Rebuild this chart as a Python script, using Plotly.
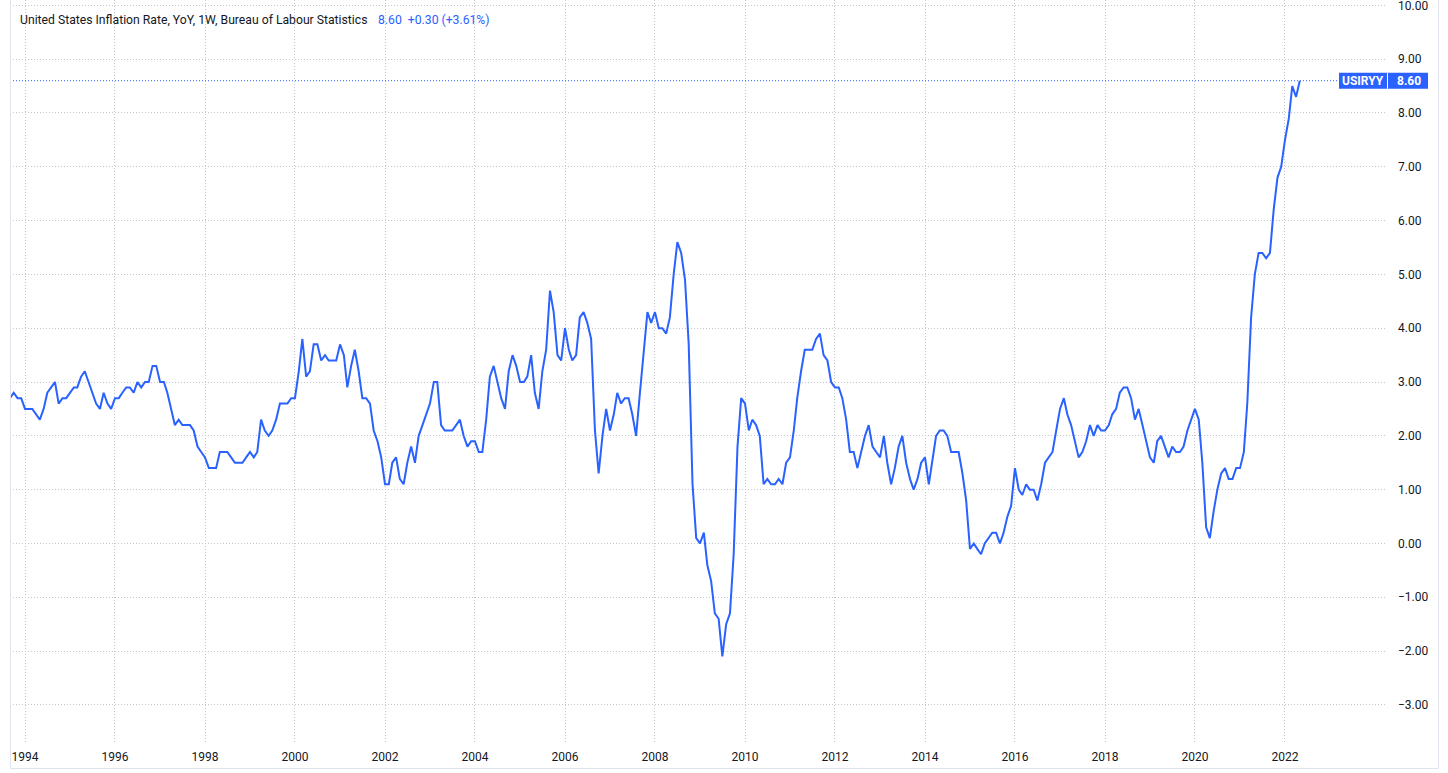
import plotly.graph_objects as go
import pandas as pd

# Monthly US CPI YoY (%), Sep 1993 .. May 2022
start_month = "1993-09-01"
values = [
    2.7, 2.8, 2.7, 2.7,                                              # 1993 Sep-Dec
    2.5, 2.5, 2.5, 2.4, 2.3, 2.5, 2.8, 2.9, 3.0, 2.6, 2.7, 2.7,      # 1994
    2.8, 2.9, 2.9, 3.1, 3.2, 3.0, 2.8, 2.6, 2.5, 2.8, 2.6, 2.5,      # 1995
    2.7, 2.7, 2.8, 2.9, 2.9, 2.8, 3.0, 2.9, 3.0, 3.0, 3.3, 3.3,      # 1996
    3.0, 3.0, 2.8, 2.5, 2.2, 2.3, 2.2, 2.2, 2.2, 2.1, 1.8, 1.7,      # 1997
    1.6, 1.4, 1.4, 1.4, 1.7, 1.7, 1.7, 1.6, 1.5, 1.5, 1.5, 1.6,      # 1998
    1.7, 1.6, 1.7, 2.3, 2.1, 2.0, 2.1, 2.3, 2.6, 2.6, 2.6, 2.7,      # 1999
    2.7, 3.2, 3.8, 3.1, 3.2, 3.7, 3.7, 3.4, 3.5, 3.4, 3.4, 3.4,      # 2000
    3.7, 3.5, 2.9, 3.3, 3.6, 3.2, 2.7, 2.7, 2.6, 2.1, 1.9, 1.6,      # 2001
    1.1, 1.1, 1.5, 1.6, 1.2, 1.1, 1.5, 1.8, 1.5, 2.0, 2.2, 2.4,      # 2002
    2.6, 3.0, 3.0, 2.2, 2.1, 2.1, 2.1, 2.2, 2.3, 2.0, 1.8, 1.9,      # 2003
    1.9, 1.7, 1.7, 2.3, 3.1, 3.3, 3.0, 2.7, 2.5, 3.2, 3.5, 3.3,      # 2004
    3.0, 3.0, 3.1, 3.5, 2.8, 2.5, 3.2, 3.6, 4.7, 4.3, 3.5, 3.4,      # 2005
    4.0, 3.6, 3.4, 3.5, 4.2, 4.3, 4.1, 3.8, 2.1, 1.3, 2.0, 2.5,      # 2006
    2.1, 2.4, 2.8, 2.6, 2.7, 2.7, 2.4, 2.0, 2.8, 3.5, 4.3, 4.1,      # 2007
    4.3, 4.0, 4.0, 3.9, 4.2, 5.0, 5.6, 5.4, 4.9, 3.7, 1.1, 0.1,      # 2008
    0.0, 0.2, -0.4, -0.7, -1.3, -1.4, -2.1, -1.5, -1.3, -0.2, 1.8, 2.7,  # 2009
    2.6, 2.1, 2.3, 2.2, 2.0, 1.1, 1.2, 1.1, 1.1, 1.2, 1.1, 1.5,      # 2010
    1.6, 2.1, 2.7, 3.2, 3.6, 3.6, 3.6, 3.8, 3.9, 3.5, 3.4, 3.0,      # 2011
    2.9, 2.9, 2.7, 2.3, 1.7, 1.7, 1.4, 1.7, 2.0, 2.2, 1.8, 1.7,      # 2012
    1.6, 2.0, 1.5, 1.1, 1.4, 1.8, 2.0, 1.5, 1.2, 1.0, 1.2, 1.5,      # 2013
    1.6, 1.1, 1.5, 2.0, 2.1, 2.1, 2.0, 1.7, 1.7, 1.7, 1.3, 0.8,      # 2014
    -0.1, 0.0, -0.1, -0.2, 0.0, 0.1, 0.2, 0.2, 0.0, 0.2, 0.5, 0.7,   # 2015
    1.4, 1.0, 0.9, 1.1, 1.0, 1.0, 0.8, 1.1, 1.5, 1.6, 1.7, 2.1,      # 2016
    2.5, 2.7, 2.4, 2.2, 1.9, 1.6, 1.7, 1.9, 2.2, 2.0, 2.2, 2.1,      # 2017
    2.1, 2.2, 2.4, 2.5, 2.8, 2.9, 2.9, 2.7, 2.3, 2.5, 2.2, 1.9,      # 2018
    1.6, 1.5, 1.9, 2.0, 1.8, 1.6, 1.8, 1.7, 1.7, 1.8, 2.1, 2.3,      # 2019
    2.5, 2.3, 1.5, 0.3, 0.1, 0.6, 1.0, 1.3, 1.4, 1.2, 1.2, 1.4,      # 2020
    1.4, 1.7, 2.6, 4.2, 5.0, 5.4, 5.4, 5.3, 5.4, 6.2, 6.8, 7.0,      # 2021
    7.5, 7.9, 8.5, 8.3, 8.6,                                          # 2022
]
dates = pd.date_range(start_month, periods=len(values), freq="MS")

year_ticks = [f"{y}-01-01" for y in range(1994, 2023, 2)]
year_labels = [str(y) for y in range(1994, 2023, 2)]
y_ticks = list(range(-3, 11))

title_text = "United States Inflation Rate, YoY, 1W, Bureau of Labour Statistics"
last_value = values[-1]
change = values[-1] - values[-2]
change_pct = change / values[-2] * 100
symbol = "USIRYY"

BLUE = "#2962ff"
TEXT = "#131722"
GRID = "#c3c6ce"
FRAME = "#e0e3eb"

W, H = 1448, 773
L, R, T, B = 10, 61, 0, 31
pw = W - L - R
ph = H - T - B

def px_x(x):
    return (x - L) / pw

def px_y(y):
    return 1 - (y - T) / ph

fig = go.Figure()
fig.add_trace(go.Scatter(
    x=dates, y=values, mode="lines",
    line=dict(color=BLUE, width=2), hoverinfo="skip", showlegend=False,
))

fig.update_layout(
    width=W, height=H,
    margin=dict(l=L, r=R, t=T, b=B, pad=0),
    paper_bgcolor="white", plot_bgcolor="white",
    font=dict(family="Roboto, Arial, sans-serif", size=12, color=TEXT),
    xaxis=dict(
        type="date",
        range=["1993-09-01", "2024-04-08"],
        tickvals=year_ticks, ticktext=year_labels,
        showgrid=True, gridcolor=GRID, griddash="1px,2px", gridwidth=1,
        zeroline=False, showline=False, ticks="",
        ticklabelstandoff=6,
        tickfont=dict(size=12, color=TEXT),
    ),
    yaxis=dict(
        range=[-3.69, 10.10],
        side="right",
        tickvals=y_ticks, tickformat=".2f",
        showgrid=True, gridcolor=GRID, griddash="1px,2px", gridwidth=1,
        zeroline=False, showline=False, ticks="",
        ticklabelstandoff=10,
        ticklabeloverflow="allow",
        tickfont=dict(size=12, color=TEXT),
    ),
)

shapes = []
# price line
shapes.append(dict(type="line", xref="paper", yref="y", x0=0, x1=1,
                   y0=last_value, y1=last_value,
                   line=dict(color=BLUE, width=1, dash="1px,2px")))
# frame
for (x0, y0, x1, y1) in [
    (px_x(10.5), px_y(0), px_x(10.5), px_y(768.5)),
    (px_x(1438.5), px_y(0), px_x(1438.5), px_y(768.5)),
    (px_x(10.5), px_y(768.5), px_x(1438.5), px_y(768.5)),
]:
    shapes.append(dict(type="line", xref="paper", yref="paper",
                       x0=x0, y0=y0, x1=x1, y1=y1,
                       line=dict(color=FRAME, width=1)))
# price label box
box_h = 8 / 53.83
shapes.append(dict(type="rect", xref="paper", yref="y",
                   x0=px_x(1339), x1=px_x(1428),
                   y0=last_value - box_h, y1=last_value + box_h,
                   fillcolor=BLUE, line=dict(width=0), layer="above"))
shapes.append(dict(type="line", xref="paper", yref="y",
                   x0=px_x(1387.5), x1=px_x(1387.5),
                   y0=last_value - box_h, y1=last_value + box_h,
                   line=dict(color="white", width=1), layer="above"))
fig.update_layout(shapes=shapes)

annotations = [
    dict(text=symbol, xref="paper", yref="y", x=px_x(1363), y=last_value,
         xanchor="center", yanchor="middle", showarrow=False,
         font=dict(color="white", size=12, family="Roboto, Arial, sans-serif", weight="bold")),
    dict(text=f"{last_value:.2f}", xref="paper", yref="y", x=px_x(1409), y=last_value,
         xanchor="center", yanchor="middle", showarrow=False,
         font=dict(color="white", size=12, family="Roboto, Arial, sans-serif", weight="bold")),
    dict(text=title_text, xref="paper", yref="paper", x=px_x(18), y=px_y(20),
         xanchor="left", yanchor="middle", showarrow=False,
         font=dict(color=TEXT, size=12.2)),
    dict(text=f"{last_value:.2f}  +{change:.2f} (+{change_pct:.2f}%)".replace("  ", "\u00a0\u00a0"),
         xref="paper", yref="paper", x=px_x(376), y=px_y(20),
         xanchor="left", yanchor="middle", showarrow=False,
         font=dict(color=BLUE, size=12.2)),
]
fig.update_layout(annotations=annotations)

fig.write_html("out.html")
